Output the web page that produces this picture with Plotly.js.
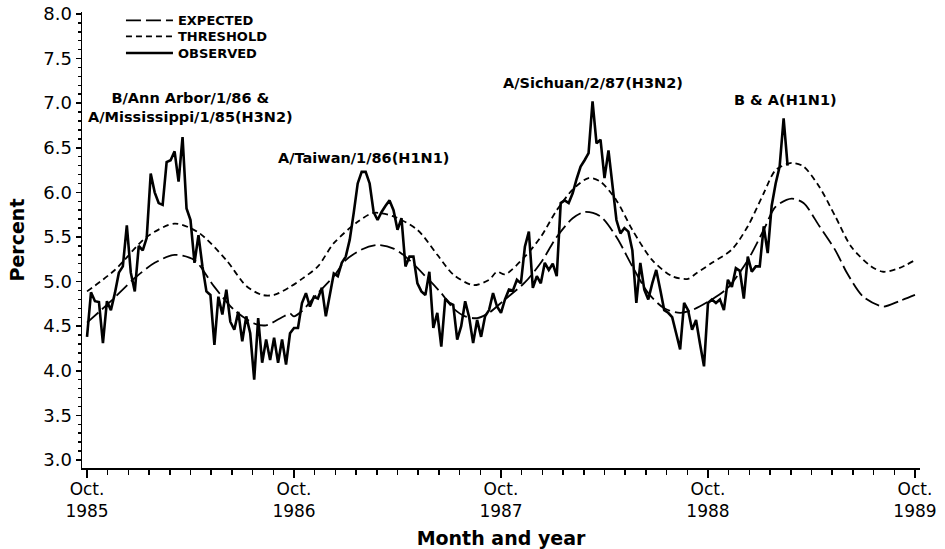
<!DOCTYPE html>
<html>
<head>
<meta charset="utf-8">
<script src="https://cdn.plot.ly/plotly-3.0.1.min.js"></script>
<style>html,body{margin:0;padding:0;background:#fff;}#chart{width:945px;height:549px;}</style>
</head>
<body>
<div id="chart"></div>
<script>
// Weeks counted from Oct. 1985 (week 0)
const tickWeeks = [0, 52, 104, 156, 208];
const tickLabels = ["Oct.<br>1985", "Oct.<br>1986", "Oct.<br>1987", "Oct.<br>1988", "Oct.<br>1989"];

// Observed weekly percent, starting at week 0
const observedPct = [
  4.38, 4.88, 4.78, 4.77, 4.31, 4.78, 4.68, 4.87, 5.10, 5.17,
  5.63, 5.10, 4.89, 5.40, 5.35, 5.49, 6.21, 6.00, 5.88, 5.86,
  6.34, 6.36, 6.46, 6.12, 6.62, 5.82, 5.69, 5.21, 5.52, 5.17,
  4.89, 4.85, 4.29, 4.83, 4.63, 4.91, 4.55, 4.46, 4.66, 4.33,
  4.61, 4.42, 3.90, 4.59, 4.09, 4.35, 4.12, 4.37, 4.09, 4.35,
  4.07, 4.42, 4.48, 4.48, 4.76, 4.87, 4.72, 4.83, 4.81, 4.93,
  4.61, 4.87, 5.09, 5.06, 5.21, 5.28, 5.47, 5.77, 6.10, 6.23,
  6.23, 6.10, 5.78, 5.69, 5.78, 5.85, 5.91, 5.80, 5.58, 5.71,
  5.17, 5.28, 5.28, 4.98, 4.89, 4.85, 5.11, 4.48, 4.65, 4.27,
  4.81, 4.76, 4.74, 4.35, 4.50, 4.78, 4.60, 4.31, 4.57, 4.38,
  4.61, 4.68, 4.87, 4.72, 4.65, 4.80, 4.91, 4.90, 5.02, 4.98,
  5.39, 5.56, 4.93, 5.06, 4.98, 5.21, 5.13, 5.20, 5.06, 5.88,
  5.91, 5.88, 5.99, 6.15, 6.29, 6.36, 6.44, 7.02, 6.55, 6.59,
  6.16, 6.47, 6.06, 5.69, 5.54, 5.60, 5.56, 5.35, 4.76, 5.21,
  4.91, 4.80, 4.98, 5.13, 4.91, 4.68, 4.65, 4.60, 4.42, 4.24,
  4.76, 4.68, 4.46, 4.57, 4.30, 4.05, 4.76, 4.80, 4.76, 4.80,
  4.68, 5.02, 4.94, 5.15, 5.12, 4.81, 5.28, 5.11, 5.17, 5.17,
  5.62, 5.32, 5.85, 6.10, 6.29, 6.83, 6.30
];
const observedWeeks = observedPct.map((_, i) => i);

// Expected
const expectedWeeks = [0, 6, 12, 17, 22, 27, 32, 37, 42, 45, 49, 51, 52, 54, 58, 62, 65, 69, 73, 77, 80, 85, 89,
  92, 95, 98, 101, 105, 110, 114, 118, 122, 125, 129, 133, 137, 141, 145, 149,
  152, 157, 161, 166, 170, 173, 177, 180, 184, 188, 191, 195, 200, 204, 208];
const expectedPct = [4.54, 4.78, 5.04, 5.21, 5.30, 5.24, 4.94, 4.68, 4.53, 4.51, 4.60, 4.64, 4.61, 4.67, 4.87, 5.06, 5.24, 5.36, 5.41, 5.37, 5.28, 5.06, 4.87,
  4.70, 4.61, 4.59, 4.65, 4.80, 4.99, 5.21, 5.50, 5.71, 5.78, 5.73, 5.50, 5.17, 4.87, 4.70, 4.65,
  4.68, 4.80, 4.93, 5.24, 5.58, 5.84, 5.93, 5.88, 5.62, 5.35, 5.09, 4.83, 4.72, 4.78, 4.85];

// Threshold
const thresholdWeeks = [0, 7, 15, 22, 28, 35, 40, 44, 47, 51, 54, 58, 62, 68, 72, 77, 83, 88,
  92, 97, 101, 103, 105, 110, 114, 118, 122, 126, 129, 133, 137, 142, 147, 151,
  153, 157, 162, 166, 170, 173, 177, 180, 184, 188, 192, 197, 200, 204, 208];
const thresholdPct = [4.89, 5.13, 5.50, 5.65, 5.55, 5.24, 4.95, 4.85, 4.85, 4.94, 5.03, 5.17, 5.43, 5.67, 5.77, 5.73, 5.58, 5.30,
  5.08, 4.96, 5.02, 5.11, 5.08, 5.28, 5.50, 5.80, 6.03, 6.16, 6.12, 5.91, 5.58, 5.24, 5.06, 5.03,
  5.09, 5.21, 5.36, 5.62, 5.99, 6.25, 6.33, 6.29, 6.06, 5.73, 5.39, 5.17, 5.11, 5.15, 5.24];

// Epidemic labels
const labelText = ["B/Ann Arbor/1/86 &<br>A/Mississippi/1/85(H3N2)", "A/Taiwan/1/86(H1N1)", "A/Sichuan/2/87(H3N2)", "B & A(H1N1)"];
const labelWeek = [25.9, 69.5, 127.2, 175.4];
const labelPct = [6.95, 6.385, 7.222, 7.035];

const FONT = "DejaVu Sans";

const traces = [
  {x: expectedWeeks, y: expectedPct, name: "EXPECTED", mode: "lines", legend: "legend",
   line: {color: "#000", width: 1.8, dash: "15px,5px", shape: "spline", smoothing: 0.8}},
  {x: thresholdWeeks, y: thresholdPct, name: "THRESHOLD", mode: "lines", legend: "legend2",
   line: {color: "#000", width: 1.8, dash: "6px,4px", shape: "spline", smoothing: 0.8}},
  {x: observedWeeks, y: observedPct, name: "OBSERVED", mode: "lines", legend: "legend3",
   line: {color: "#000", width: 2.6}}
];

const annotations = labelText.map((t, i) => ({
  x: labelWeek[i], y: labelPct[i], xref: "x", yref: "y", text: t, showarrow: false,
  font: {family: FONT, size: 14.5, weight: "bold", color: "#000"}, align: "center"
}));

function legendBox(y) {
  return {x: 0.0465, y: y, xanchor: "left", yanchor: "top", bgcolor: "rgba(0,0,0,0)",
          itemwidth: 47, font: {family: FONT, size: 13, weight: "bold", color: "#000"}};
}

const layout = {
  width: 945, height: 549,
  margin: {l: 82, r: 25, t: 12, b: 81, autoexpand: false},
  paper_bgcolor: "#fff", plot_bgcolor: "#fff",
  showlegend: true,
  legend: legendBox(1.0145),
  legend2: legendBox(0.9794),
  legend3: legendBox(0.9430),
  xaxis: {
    range: [-1.26, 209.26], showgrid: false, zeroline: false,
    showline: true, linecolor: "#000", linewidth: 1.5,
    tickmode: "array", tickvals: tickWeeks, ticktext: tickLabels,
    ticks: "outside", ticklen: 8, tickwidth: 1.5, tickcolor: "#000",
    ticklabelstandoff: -3,
    tickfont: {family: FONT, size: 17, color: "#000"},
    minor: {tickmode: "linear", tick0: 0, dtick: 5.2, ticks: "outside", ticklen: 5, tickwidth: 1.5, tickcolor: "#000", showgrid: false},
    title: {text: "Month and year", font: {family: FONT, size: 19, weight: "bold", color: "#000"}, standoff: 14},
    automargin: false
  },
  yaxis: {
    range: [2.91, 8.022], showgrid: false, zeroline: false,
    showline: true, linecolor: "#000", linewidth: 1.5,
    tickmode: "linear", tick0: 3, dtick: 0.5, tickformat: ".1f",
    ticks: "outside", ticklen: 5, tickwidth: 1.5, tickcolor: "#000",
    tickfont: {family: FONT, size: 18, color: "#000"},
    minor: {tickmode: "linear", tick0: 3, dtick: 0.1, ticks: "outside", ticklen: 3, tickwidth: 1.5, tickcolor: "#000", showgrid: false},
    title: {text: "Percent", font: {family: FONT, size: 19, weight: "bold", color: "#000"}, standoff: 13},
    automargin: false
  },
  annotations: annotations
};

Plotly.newPlot("chart", traces, layout, {displayModeBar: false, staticPlot: true});
</script>
</body>
</html>
